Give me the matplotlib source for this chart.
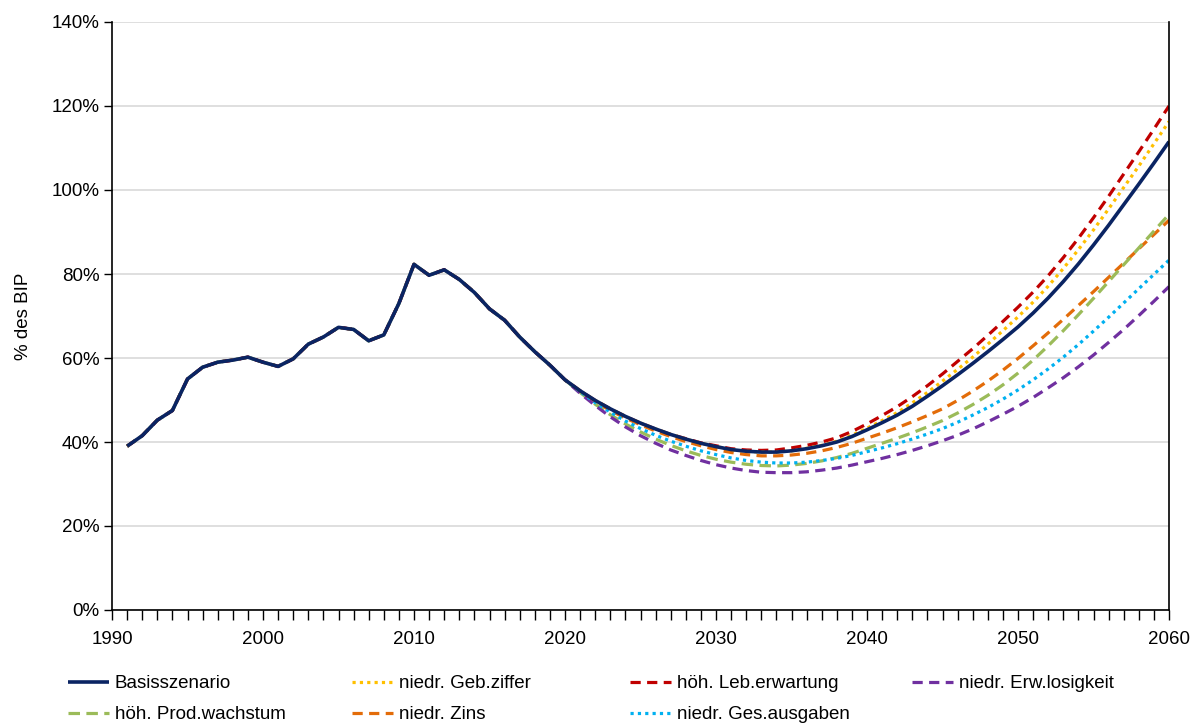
import matplotlib
matplotlib.use('Agg')
import matplotlib.pyplot as plt
from matplotlib.ticker import MultipleLocator, FuncFormatter

plt.rcParams['font.family'] = ['Liberation Sans', 'DejaVu Sans']
plt.rcParams['font.size'] = 13.5

# Schuldenstand in % des BIP
hist_years = list(range(1991, 2020))
hist_values = [39.0, 41.5, 45.2, 47.5, 55.0, 57.8, 59.0, 59.5, 60.2, 59.0,
               58.0, 59.8, 63.3, 65.0, 67.3, 66.8, 64.1, 65.5, 73.0, 82.3,
               79.7, 81.0, 78.7, 75.6, 71.7, 69.0, 65.0, 61.5, 58.3]

proj_years = list(range(2020, 2061))

basis = [54.8, 52.2, 49.9, 47.9, 46.1, 44.5, 43.1, 41.8, 40.7, 39.7,
         38.9, 38.2, 37.8, 37.6, 37.6, 37.9, 38.4, 39.1, 40.0, 41.3,
         42.9, 44.6, 46.4, 48.5, 50.9, 53.4, 56.0, 58.7, 61.5, 64.4,
         67.4, 70.7, 74.3, 78.2, 82.4, 86.9, 91.6, 96.5, 101.4, 106.4,
         111.5]

geb_ziffer = [54.8, 52.2, 49.9, 47.9, 46.1, 44.5, 43.1, 41.8, 40.7, 39.7,
              38.9, 38.2, 37.8, 37.6, 37.6, 37.9, 38.5, 39.2, 40.2, 41.6,
              43.3, 45.1, 47.0, 49.3, 51.8, 54.5, 57.3, 60.2, 63.3, 66.5,
              69.8, 73.3, 77.1, 81.3, 85.8, 90.5, 95.5, 100.6, 105.7, 111.0,
              116.3]

leb_erwartung = [54.8, 52.2, 49.9, 47.9, 46.1, 44.5, 43.1, 41.8, 40.8, 39.8,
                 39.1, 38.4, 38.1, 38.0, 38.1, 38.6, 39.2, 40.0, 41.0, 42.5,
                 44.3, 46.3, 48.4, 50.8, 53.4, 56.2, 59.2, 62.2, 65.4, 68.7,
                 72.1, 75.7, 79.6, 83.9, 88.5, 93.4, 98.5, 103.8, 109.1, 114.5,
                 120.0]

erw_losigkeit = [54.8, 51.6, 48.7, 46.0, 43.6, 41.5, 39.7, 38.1, 36.8, 35.6,
                 34.6, 33.8, 33.2, 32.8, 32.7, 32.7, 32.9, 33.3, 33.8, 34.5,
                 35.3, 36.1, 37.0, 38.0, 39.1, 40.3, 41.6, 43.1, 44.8, 46.6,
                 48.5, 50.6, 52.9, 55.3, 57.9, 60.7, 63.7, 66.8, 70.1, 73.5,
                 77.0]

prod_wachstum = [54.8, 51.8, 49.0, 46.5, 44.3, 42.4, 40.7, 39.2, 37.9, 36.8,
                 35.9, 35.2, 34.7, 34.4, 34.3, 34.5, 34.9, 35.5, 36.3, 37.3,
                 38.5, 39.7, 40.9, 42.2, 43.6, 45.1, 46.9, 48.9, 51.1, 53.6,
                 56.4, 59.5, 62.9, 66.5, 70.3, 74.2, 78.2, 82.2, 86.2, 90.2,
                 94.2]

zins = [54.8, 52.1, 49.6, 47.5, 45.7, 44.1, 42.6, 41.3, 40.1, 39.1,
        38.2, 37.5, 37.0, 36.7, 36.7, 36.9, 37.3, 37.9, 38.7, 39.7,
        40.9, 42.1, 43.4, 44.8, 46.3, 47.9, 49.9, 52.1, 54.5, 57.1,
        59.9, 62.9, 66.0, 69.2, 72.5, 75.8, 79.2, 82.6, 86.0, 89.4,
        92.8]

ges_ausgaben = [54.8, 52.0, 49.4, 47.1, 45.0, 43.2, 41.6, 40.2, 39.0, 37.9,
                37.0, 36.2, 35.6, 35.2, 35.0, 35.0, 35.2, 35.6, 36.1, 36.8,
                37.7, 38.6, 39.6, 40.7, 41.9, 43.2, 44.7, 46.4, 48.2, 50.2,
                52.4, 54.8, 57.4, 60.2, 63.2, 66.4, 69.7, 73.1, 76.5, 79.9,
                83.3]

labels = ['Basisszenario', 'niedr. Geb.ziffer', 'höh. Leb.erwartung',
          'niedr. Erw.losigkeit', 'höh. Prod.wachstum', 'niedr. Zins',
          'niedr. Ges.ausgaben']

fig = plt.figure(figsize=(12.04, 7.27), dpi=100)
ax = fig.add_axes([112/1204, 1 - 610/727, (1169 - 112)/1204, (610 - 22)/727])

years = hist_years + proj_years
lw = 2.3
dot = (0, (1.0, 1.3))
dash = (0, (3.2, 2.0))

# szenarien (mit Historie darunter), Basis zuletzt oben
lines = {}
lines['zins'], = ax.plot(years, hist_values + zins, color='#E36C09', lw=lw, linestyle=dash)
lines['prod'], = ax.plot(years, hist_values + prod_wachstum, color='#9BBB59', lw=lw, linestyle=(0, (3.6, 2.0)))
lines['erw'], = ax.plot(years, hist_values + erw_losigkeit, color='#7030A0', lw=lw, linestyle=dash)
lines['ges'], = ax.plot(years, hist_values + ges_ausgaben, color='#00B0F0', lw=lw, linestyle=dot)
lines['leb'], = ax.plot(years, hist_values + leb_erwartung, color='#C00000', lw=lw, linestyle=dash)
lines['geb'], = ax.plot(years, hist_values + geb_ziffer, color='#FFC000', lw=lw, linestyle=dot)
lines['basis'], = ax.plot(years, hist_values + basis, color='#0A2463', lw=2.6, solid_capstyle='butt')

ax.set_xlim(1990, 2060)
ax.set_ylim(0, 140)
ax.xaxis.set_major_locator(MultipleLocator(10))
ax.xaxis.set_minor_locator(MultipleLocator(1))
ax.yaxis.set_major_locator(MultipleLocator(20))
ax.yaxis.set_major_formatter(FuncFormatter(lambda v, p: f'{v:.0f}%'))
ax.tick_params(axis='x', which='major', direction='out', length=7, width=1, pad=8)
ax.tick_params(axis='x', which='minor', direction='out', length=7, width=1)
ax.tick_params(axis='y', direction='out', length=6, width=1, pad=3)
ax.grid(axis='y', color='#D9D9D9', lw=1.2)
ax.set_axisbelow(True)
for s in ['left', 'bottom', 'right']:
    ax.spines[s].set_color('black')
    ax.spines[s].set_linewidth(1.2)
ax.spines['top'].set_visible(False)
ax.set_ylabel('% des BIP', labelpad=14)

# legende: 4 spalten, zeilenweise
cols = [
    ([lines['basis'], lines['prod']], [labels[0], labels[4]]),
    ([lines['geb'], lines['zins']], [labels[1], labels[5]]),
    ([lines['leb'], lines['ges']], [labels[2], labels[6]]),
    ([lines['erw']], [labels[3]]),
]
col_x = [68, 352, 630, 912]
for (h, l), x in zip(cols, col_x):
    fig.legend(h, l, loc='upper left', bbox_to_anchor=(x/1204, 1 - 675/727),
               frameon=False, borderpad=0, borderaxespad=0, handlelength=2.2,
               handletextpad=0.3, labelspacing=0.75, fontsize=13.5)

fig.savefig('out.png', dpi=100)
